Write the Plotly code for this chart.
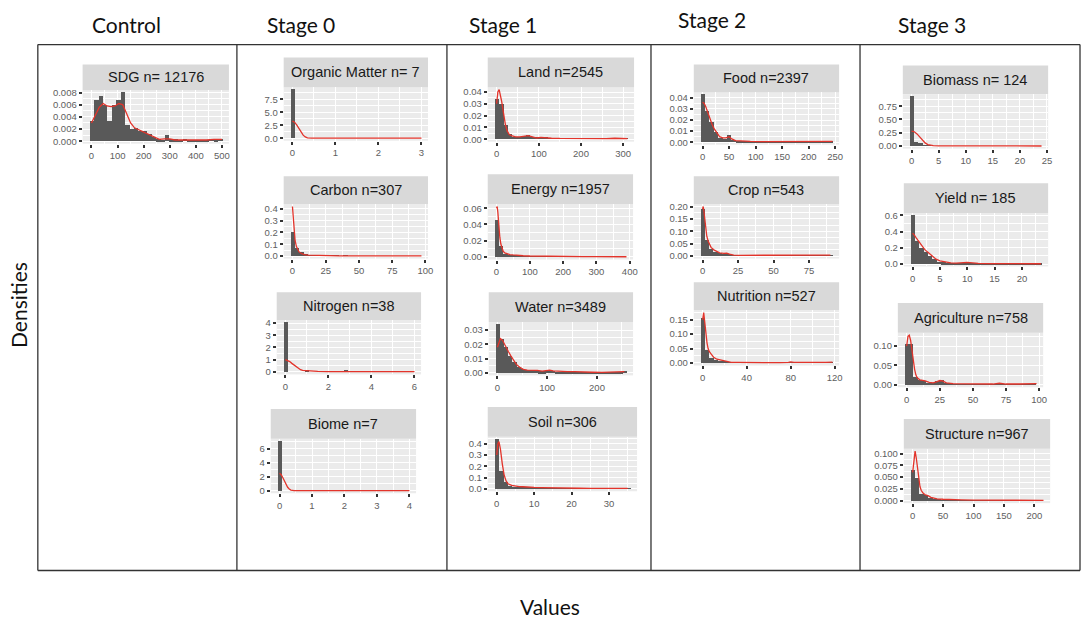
import plotly.graph_objects as go

# ---------------- DATA ----------------
# histogram bar heights (bins centred on 0, w, 2w, ...), bin widths, density curves
sdg_w = 17
sdg_bins = [0.0033, 0.0068, 0.0074, 0.0060, 0.0033, 0.0060, 0.0068, 0.0080, 0.0026, 0.0020,
            0.0022, 0.0017, 0.0016, 0.0011, 0.0006, 0.0003, 0.0002, 0.0010, 0.0003, 0.0003,
            0.0002, 0.0004, 0.0001, 0.0001, 0.0001, 0.0001, 0.0001, 0.0004, 0.0003, 0.0004]
sdg_dx = [0, 15, 30, 45, 60, 75, 90, 105, 120, 135, 150, 165, 180, 200, 220, 240, 260, 280, 300,
          320, 350, 380, 410, 440, 470, 500]
sdg_dy = [0.0030, 0.0042, 0.0056, 0.0062, 0.0058, 0.0057, 0.0058, 0.0062, 0.0060, 0.0045, 0.0030,
          0.0022, 0.0019, 0.0015, 0.0010, 0.0006, 0.0003, 0.0004, 0.0004, 0.0002, 0.0002, 0.0001,
          0.0001, 0.0002, 0.0003, 0.0003]

om_w = 0.1
om_bins = [9.4]
om_dx = [0, 0.05, 0.1, 0.15, 0.2, 0.25, 0.3, 0.35, 0.45, 0.6, 1, 1.5, 2, 2.5, 3]
om_dy = [3.3, 3.1, 2.6, 1.9, 1.2, 0.6, 0.25, 0.08, 0.02, 0.01, 0.02, 0.01, 0.01, 0.01, 0.02]

carbon_w = 3.3
carbon_bins = [0.20, 0.065, 0.030, 0.012, 0.008, 0.005, 0.006, 0.003, 0.002, 0.001, 0.001, 0, 0.001]
carbon_dx = [0, 0.5, 1, 1.5, 2, 3, 4, 5, 7, 9, 12, 15, 18, 20, 23, 28, 35, 50, 70, 85, 97]
carbon_dy = [0.42, 0.36, 0.26, 0.18, 0.13, 0.08, 0.05, 0.035, 0.02, 0.012, 0.008, 0.006, 0.005,
             0.007, 0.004, 0.003, 0.002, 0.001, 0.001, 0.002, 0.001]

nitrogen_w = 0.2
nitrogen_bins = [4.05, 0, 0, 0, 0, 0.13, 0, 0, 0, 0, 0, 0, 0, 0, 0.13]
nitrogen_dx = [0, 0.1, 0.2, 0.3, 0.4, 0.5, 0.6, 0.7, 0.8, 1.0, 1.2, 1.5, 2, 2.5, 2.9, 3.3, 4, 5, 6]
nitrogen_dy = [1.0, 0.95, 0.85, 0.7, 0.55, 0.4, 0.28, 0.18, 0.12, 0.08, 0.06, 0.04, 0.03, 0.03,
               0.05, 0.03, 0.02, 0.01, 0.02]

biome_w = 0.133
biome_bins = [7.1]
biome_dx = [0, 0.05, 0.1, 0.15, 0.2, 0.25, 0.3, 0.35, 0.45, 0.6, 1, 2, 3, 4]
biome_dy = [2.5, 2.3, 1.9, 1.4, 0.9, 0.5, 0.25, 0.1, 0.03, 0.01, 0.01, 0.01, 0.01, 0.01]

land_w = 10.5
land_bins = [0.034, 0.030, 0.012, 0.004, 0.002, 0.002, 0.0025, 0.003, 0.002, 0.0012, 0.0015,
             0.001, 0.0008, 0.0008, 0.0006, 0.0006, 0.0005, 0.0004, 0.0005, 0.0008, 0.0004,
             0.0003, 0.0003, 0.0003, 0.0003, 0.0003, 0.0005, 0.0008, 0.0003, 0.0004]
land_dx = [0, 3, 6, 9, 12, 15, 18, 21, 25, 30, 35, 45, 55, 65, 75, 85, 95, 105, 115, 130, 150,
           170, 190, 200, 215, 240, 260, 280, 295, 310]
land_dy = [0.030, 0.040, 0.042, 0.038, 0.032, 0.025, 0.018, 0.012, 0.007, 0.004, 0.003, 0.002,
           0.002, 0.0025, 0.003, 0.002, 0.001, 0.0015, 0.001, 0.0008, 0.0006, 0.0005, 0.0006,
           0.0009, 0.0005, 0.0004, 0.0004, 0.0008, 0.0006, 0.0005]

energy_w = 13
energy_bins = [0.045, 0.014, 0.004, 0.002, 0.0015, 0.0015, 0.001, 0.001, 0.0008, 0.001, 0.0006,
               0.0005, 0.0005, 0.0004, 0.0004, 0.0003, 0.0003, 0.0003, 0.0003, 0.0002, 0.0002,
               0.0002, 0.0002, 0.0002, 0.0002, 0.0002, 0.0002, 0.0002, 0.0002, 0.0003]
energy_dx = [0, 2, 4, 6, 8, 10, 13, 16, 20, 25, 30, 40, 50, 60, 70, 80, 100, 120, 150, 180, 220,
             260, 300, 340, 370, 390]
energy_dy = [0.060, 0.062, 0.055, 0.042, 0.032, 0.024, 0.016, 0.011, 0.007, 0.005, 0.004, 0.003,
             0.0025, 0.002, 0.002, 0.0015, 0.0012, 0.001, 0.0008, 0.0006, 0.0005, 0.0004, 0.0004,
             0.0003, 0.0004, 0.0003]

water_w = 8.5
water_bins = [0.034, 0.024, 0.018, 0.012, 0.008, 0.004, 0.0025, 0.002, 0.002, 0.0018, 0.0012,
              0.0012, 0.0022, 0.0015, 0.001, 0.0008, 0.0008, 0.0006, 0.0009, 0.0006, 0.0004,
              0.0005, 0.0004, 0.0004, 0.0003, 0.0003, 0.0004, 0.0003, 0.0004, 0.0008, 0.0015]
water_dx = [0, 3, 6, 10, 14, 18, 22, 27, 32, 38, 45, 52, 60, 70, 80, 90, 100, 105, 112, 125, 140,
            155, 170, 190, 210, 230, 245, 255]
water_dy = [0.018, 0.022, 0.024, 0.023, 0.020, 0.017, 0.015, 0.012, 0.009, 0.006, 0.004, 0.0025,
            0.002, 0.002, 0.0018, 0.0013, 0.0015, 0.002, 0.0015, 0.001, 0.0009, 0.0009, 0.0006,
            0.0005, 0.0004, 0.0004, 0.0006, 0.0009]

soil_w = 1.17
soil_bins = [0.44, 0.16, 0.06, 0.03, 0.02, 0.015, 0.012, 0.01, 0.01, 0.008, 0.008, 0.006, 0.005,
             0.005, 0.005, 0.004, 0.005, 0.006, 0.005, 0.004, 0.003, 0.004, 0.003, 0.002, 0.003,
             0.002, 0.002, 0.003, 0.002, 0.002, 0.003]
soil_dx = [0, 0.3, 0.6, 1, 1.5, 2, 2.5, 3, 4, 5, 6, 7, 8, 10, 12, 14, 16, 18, 20, 22, 25, 28, 31, 35]
soil_dy = [0.30, 0.40, 0.42, 0.35, 0.22, 0.12, 0.07, 0.045, 0.03, 0.022, 0.02, 0.018, 0.015, 0.012,
           0.01, 0.008, 0.007, 0.008, 0.007, 0.005, 0.004, 0.004, 0.003, 0.003]

food_w = 8.3
food_bins = [0.043, 0.028, 0.018, 0.009, 0.004, 0.003, 0.006, 0.002, 0.0012, 0.001, 0.0008,
             0.0008, 0.0006, 0.0005, 0.0005, 0.0004, 0.0006, 0.0008, 0.0006, 0.0005, 0.0004,
             0.0004, 0.0004, 0.0004, 0.0004, 0.0003, 0.0003, 0.0004, 0.0003, 0.0006]
food_dx = [0, 3, 6, 10, 14, 18, 22, 27, 32, 38, 44, 50, 55, 62, 75, 90, 110, 130, 150, 165, 180,
           200, 220, 235, 245]
food_dy = [0.036, 0.035, 0.032, 0.026, 0.021, 0.016, 0.012, 0.008, 0.005, 0.004, 0.004, 0.005,
           0.003, 0.0015, 0.001, 0.0008, 0.0006, 0.0006, 0.0008, 0.0012, 0.0008, 0.0006, 0.0007,
           0.001, 0.0008]

crop_w = 3
crop_bins = [0.19, 0.065, 0.03, 0.018, 0.012, 0.01, 0.008, 0.004, 0.003, 0.003, 0.002, 0.002,
             0.002, 0.002, 0.002, 0.002, 0.003, 0.002, 0.002, 0.002, 0.001, 0.001, 0.001, 0.002,
             0.001, 0.001, 0.002, 0.003, 0.004, 0.003, 0.004]
crop_dx = [0, 0.5, 1, 2, 3, 4, 5, 6, 8, 10, 12, 15, 17, 19, 22, 26, 30, 35, 40, 47, 50, 58, 65,
           72, 78, 82, 86, 90]
crop_dy = [0.19, 0.20, 0.18, 0.12, 0.08, 0.06, 0.045, 0.035, 0.025, 0.018, 0.013, 0.011, 0.012,
           0.008, 0.004, 0.003, 0.003, 0.002, 0.002, 0.003, 0.002, 0.002, 0.002, 0.002, 0.003,
           0.004, 0.003, 0.004]

nutrition_w = 4
nutrition_bins = [0.155, 0.045, 0.018, 0.01, 0.006, 0.004, 0.002, 0.002, 0.001, 0.001, 0.001,
                  0.001, 0.001, 0.001, 0.001, 0.001, 0.001, 0.001, 0.001, 0.001, 0.003, 0.001,
                  0.001, 0.001, 0.001, 0.001, 0.001, 0.001, 0.002, 0.003]
nutrition_dx = [0, 0.5, 1, 2, 3, 4, 5, 6, 8, 10, 13, 16, 19, 22, 26, 32, 40, 50, 60, 70, 78, 80,
                83, 95, 105, 112, 118]
nutrition_dy = [0.15, 0.17, 0.175, 0.14, 0.10, 0.07, 0.05, 0.04, 0.03, 0.02, 0.013, 0.01, 0.008,
                0.004, 0.002, 0.002, 0.0015, 0.001, 0.001, 0.001, 0.002, 0.004, 0.002, 0.001,
                0.001, 0.002, 0.003]

biomass_w = 0.8
biomass_bins = [0.93, 0.07, 0.05, 0.01, 0.005]
biomass_dx = [0, 0.5, 1, 1.5, 2, 2.5, 3, 3.5, 4, 5, 7, 9, 11, 14, 17, 20, 24]
biomass_dy = [0.28, 0.27, 0.23, 0.17, 0.11, 0.06, 0.03, 0.015, 0.01, 0.006, 0.004, 0.005, 0.003,
              0.002, 0.002, 0.002, 0.002]

yield_w = 0.8
yield_bins = [0.60, 0.28, 0.20, 0.15, 0.10, 0.06, 0.03, 0.02, 0.015, 0.01, 0.005, 0.01, 0.02,
              0.01, 0.005, 0.005, 0.003, 0.003, 0.003, 0.002, 0.002, 0.002, 0.002, 0.002, 0.002,
              0.002, 0.002, 0.002, 0.002, 0.005]
yield_dx = [0, 0.3, 0.7, 1.2, 1.7, 2.2, 2.7, 3.2, 3.7, 4.3, 5, 6, 7, 8, 9, 10, 11, 12, 14, 16, 18,
            20, 22, 23.5]
yield_dy = [0.38, 0.36, 0.32, 0.27, 0.22, 0.18, 0.15, 0.12, 0.09, 0.06, 0.04, 0.025, 0.015, 0.01,
            0.015, 0.02, 0.015, 0.008, 0.005, 0.004, 0.003, 0.003, 0.002, 0.003]

agri_w = 3.3
agri_bins = [0.107, 0.105, 0.02, 0.012, 0.01, 0.006, 0.005, 0.01, 0.012, 0.005, 0.003, 0.002,
             0.002, 0.002, 0.001, 0.001, 0.001, 0.001, 0.001, 0.001, 0.001, 0.003, 0.001, 0.001,
             0.001, 0.001, 0.001, 0.001, 0.001, 0.002]
agri_dx = [0, 1, 2, 3, 4, 5, 6, 7, 8, 10, 12, 14, 17, 20, 23, 25, 27, 30, 35, 40, 45, 55, 65, 70,
           75, 85, 95, 98]
agri_dy = [0.10, 0.125, 0.128, 0.115, 0.09, 0.06, 0.04, 0.025, 0.018, 0.013, 0.012, 0.01, 0.006,
           0.005, 0.008, 0.011, 0.01, 0.005, 0.003, 0.003, 0.002, 0.002, 0.002, 0.004, 0.002,
           0.002, 0.002, 0.003]

struct_w = 7.2
struct_bins = [0.065, 0.048, 0.015, 0.012, 0.006, 0.004, 0.003, 0.002, 0.002, 0.001, 0.001,
               0.001, 0.001, 0.001, 0.001, 0.001, 0.001, 0.001, 0.001, 0.001, 0.001, 0.001,
               0.001, 0.001, 0.001, 0.001, 0.001, 0.001, 0.001, 0.001]
struct_dx = [0, 2, 4, 6, 8, 10, 12, 14, 17, 20, 23, 26, 30, 35, 40, 50, 60, 80, 100, 130, 160,
             190, 215]
struct_dy = [0.06, 0.09, 0.105, 0.09, 0.065, 0.045, 0.03, 0.022, 0.016, 0.013, 0.012, 0.01, 0.007,
             0.005, 0.004, 0.003, 0.002, 0.0015, 0.001, 0.001, 0.0008, 0.0008, 0.0008]

stage_titles = ["Control", "Stage 0", "Stage 1", "Stage 2", "Stage 3"]

# panel label, bin width, bins, density x, density y, x tick step, y tick step, y tick format
panels = [
    ("SDG n= 12176", sdg_w, sdg_bins, sdg_dx, sdg_dy, 100, 0.002, ".3f"),
    ("Organic Matter n= 7", om_w, om_bins, om_dx, om_dy, 1, 2.5, ".1f"),
    ("Carbon n=307", carbon_w, carbon_bins, carbon_dx, carbon_dy, 25, 0.1, ".1f"),
    ("Nitrogen n=38", nitrogen_w, nitrogen_bins, nitrogen_dx, nitrogen_dy, 2, 1, "d"),
    ("Biome n=7", biome_w, biome_bins, biome_dx, biome_dy, 1, 2, "d"),
    ("Land n=2545", land_w, land_bins, land_dx, land_dy, 100, 0.01, ".2f"),
    ("Energy n=1957", energy_w, energy_bins, energy_dx, energy_dy, 100, 0.02, ".2f"),
    ("Water n=3489", water_w, water_bins, water_dx, water_dy, 100, 0.01, ".2f"),
    ("Soil n=306", soil_w, soil_bins, soil_dx, soil_dy, 10, 0.1, ".1f"),
    ("Food n=2397", food_w, food_bins, food_dx, food_dy, 50, 0.01, ".2f"),
    ("Crop n=543", crop_w, crop_bins, crop_dx, crop_dy, 25, 0.05, ".2f"),
    ("Nutrition n=527", nutrition_w, nutrition_bins, nutrition_dx, nutrition_dy, 40, 0.05, ".2f"),
    ("Biomass n= 124", biomass_w, biomass_bins, biomass_dx, biomass_dy, 5, 0.25, ".2f"),
    ("Yield n= 185", yield_w, yield_bins, yield_dx, yield_dy, 5, 0.2, ".1f"),
    ("Agriculture n=758", agri_w, agri_bins, agri_dx, agri_dy, 25, 0.05, ".2f"),
    ("Structure n=967", struct_w, struct_bins, struct_dx, struct_dy, 50, 0.025, ".3f"),
]

# ---------------- LAYOUT (pixel geometry) ----------------
W, H = 1086, 625
# x0, x1, strip_top, panel_top, panel_bottom
geom = [
    (83, 230, 62, 88, 142),
    (285, 430, 55, 85, 139),
    (285, 430, 175, 203, 258),
    (278, 423, 292, 320, 375),
    (272, 418, 410, 440, 495),
    (490, 637, 55, 85, 140),
    (490, 636, 173, 203, 259),
    (491, 636, 292, 322, 376),
    (490, 640, 408, 438, 493),
    (697, 843, 62, 90, 143),
    (697, 843, 175, 203, 258),
    (697, 843, 282, 310, 366),
    (907, 1053, 63, 92, 147),
    (908, 1053, 182, 212, 266),
    (902, 1048, 303, 333, 388),
    (908, 1055, 420, 450, 505),
]
title_pos = [(127, 22), (302, 22), (505, 22), (715, 17), (936, 22)]
frame_x = [38, 238, 449, 654, 864, 1085]
frame_top, frame_bot = 42, 573

BAR_COL = "#595959"
LINE_COL = "#e3342b"
TICK_FONT = dict(family="Liberation Sans, Arial, sans-serif", size=9.5, color="#5e5e5e")
STRIP_FONT = dict(family="Liberation Sans, Arial, sans-serif", size=14.5, color="#1a1a1a")
TITLE_FONT = dict(family="Lato, sans-serif", size=21, color="#111111")

def px(x):
    return x / W

def py(y):
    return 1 - y / H

fig = go.Figure()
shapes = []
annotations = []
layout_axes = {}

for i, (panel, g) in enumerate(zip(panels, geom), start=1):
    label, w, bins, dx, dy, xstep, ystep, yfmt = panel
    x0, x1, st, pt, pb = g
    centers = [k * w for k in range(len(bins))]
    xa = "x" if i == 1 else f"x{i}"
    ya = "y" if i == 1 else f"y{i}"
    fig.add_trace(go.Bar(x=centers, y=bins, width=w, marker=dict(color=BAR_COL, line=dict(width=0)),
                         xaxis=xa, yaxis=ya, showlegend=False, hoverinfo="skip"))
    fig.add_trace(go.Scatter(x=dx, y=dy, mode="lines", line=dict(color=LINE_COL, width=1.3),
                             xaxis=xa, yaxis=ya, showlegend=False, hoverinfo="skip"))
    lo = min(-w / 2, min(dx))
    hi = max(centers[-1] + w / 2, max(dx))
    pad = 0.05 * (hi - lo)
    top = max(max(bins), max(dy))
    xname = "xaxis" if i == 1 else f"xaxis{i}"
    yname = "yaxis" if i == 1 else f"yaxis{i}"
    layout_axes[xname] = dict(
        domain=[px(x0), px(x1)], anchor=ya, range=[lo - pad, hi + pad],
        showgrid=True, gridcolor="white", gridwidth=1, zeroline=False, showline=False,
        ticks="outside", ticklen=3, tickwidth=1.5, tickcolor="#333333",
        tick0=0, dtick=xstep, tickfont=TICK_FONT, fixedrange=True,
        minor=dict(tick0=0, dtick=xstep / 2, showgrid=True, gridcolor="white", gridwidth=0.5, ticks=""),
    )
    layout_axes[yname] = dict(
        domain=[py(pb), py(pt)], anchor=xa, range=[-0.05 * top, 1.05 * top],
        showgrid=True, gridcolor="white", gridwidth=1, zeroline=False, showline=False,
        ticks="outside", ticklen=3, tickwidth=1.5, tickcolor="#333333",
        tick0=0, dtick=ystep, tickformat=yfmt, tickfont=TICK_FONT, fixedrange=True,
        minor=dict(tick0=0, dtick=ystep / 2, showgrid=True, gridcolor="white", gridwidth=0.5, ticks=""),
    )
    shapes.append(dict(type="rect", xref="paper", yref="paper", x0=px(x0), x1=px(x1),
                       y0=py(pt), y1=py(st), fillcolor="#d9d9d9", line=dict(width=0), layer="below"))
    annotations.append(dict(text=label, xref="paper", yref="paper", x=px((x0 + x1) / 2),
                            y=py((st + pt) / 2), showarrow=False, xanchor="center", yanchor="middle",
                            font=STRIP_FONT))

for t, (tx, ty) in zip(stage_titles, title_pos):
    annotations.append(dict(text=t, xref="paper", yref="paper", x=px(tx), y=py(ty), showarrow=False,
                            xanchor="center", yanchor="middle", font=TITLE_FONT))
annotations.append(dict(text="Densities", xref="paper", yref="paper", x=px(18), y=py(305),
                        showarrow=False, textangle=-90, xanchor="center", yanchor="middle",
                        font=TITLE_FONT))
annotations.append(dict(text="Values", xref="paper", yref="paper", x=px(553), y=py(609),
                        showarrow=False, xanchor="center", yanchor="middle", font=TITLE_FONT))

frame_style = dict(color="#333333", width=1.3)
shapes.append(dict(type="line", xref="paper", yref="paper", x0=px(frame_x[0]), x1=px(frame_x[-1]),
                   y0=py(frame_top), y1=py(frame_top), line=frame_style))
shapes.append(dict(type="line", xref="paper", yref="paper", x0=px(frame_x[0]), x1=px(frame_x[-1]),
                   y0=py(frame_bot), y1=py(frame_bot), line=frame_style))
for fx in frame_x:
    shapes.append(dict(type="line", xref="paper", yref="paper", x0=px(fx), x1=px(fx),
                       y0=py(frame_top), y1=py(frame_bot), line=frame_style))

fig.update_layout(
    width=W, height=H, autosize=False,
    margin=dict(l=0, r=0, t=0, b=0, pad=0),
    paper_bgcolor="white", plot_bgcolor="#ebebeb",
    barmode="overlay", bargap=0, showlegend=False,
    shapes=shapes, annotations=annotations,
    **layout_axes,
)

fig.write_html("out.html", config={"displayModeBar": False},
               post_script="document.body.style.margin='0';document.body.style.overflow='hidden';")
